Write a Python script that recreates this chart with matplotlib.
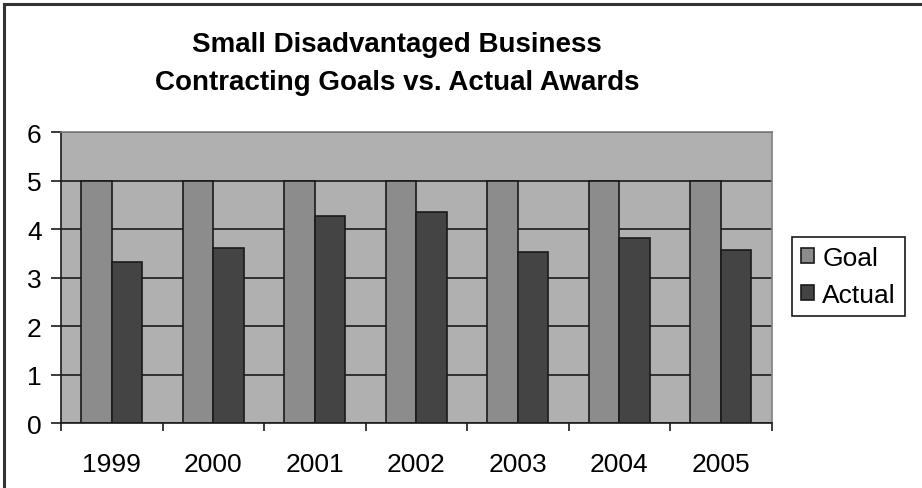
import matplotlib.pyplot as plt
import numpy as np
from matplotlib.lines import Line2D

years = ["1999", "2000", "2001", "2002", "2003", "2004", "2005"]
goal = [5, 5, 5, 5, 5, 5, 5]
actual = [3.33, 3.62, 4.28, 4.35, 3.54, 3.83, 3.58]

plt.rcParams['font.family'] = ['Liberation Sans', 'DejaVu Sans']

fig = plt.figure(figsize=(9.22, 4.89), dpi=100)
ax = fig.add_axes([0.0662, 0.1323, 0.7708, 0.5951])

x = np.arange(len(years))
w = 0.3
ax.bar(x - w / 2, goal, w, color='#8c8c8c', edgecolor='#1a1a1a', linewidth=1.2, label='Goal')
ax.bar(x + w / 2, actual, w, color='#444444', edgecolor='#1a1a1a', linewidth=1.2, label='Actual')

ax.set_facecolor('#b0b0b0')
ax.set_axisbelow(True)
ax.yaxis.grid(True, color='#1a1a1a', linewidth=1.2)

ax.set_xlim(-0.5, len(years) - 0.5)
ax.set_ylim(0, 6)
ax.set_yticks(range(0, 7))
ax.set_xticks(x)
ax.set_xticklabels(years)
ax.set_xticks(np.arange(-0.5, len(years)), minor=True)

ax.tick_params(axis='x', which='major', length=0, pad=21, labelsize=19)
ax.tick_params(axis='x', which='minor', length=6, width=1.2, direction='out', color='#1a1a1a')
ax.tick_params(axis='y', length=7, width=1.2, direction='out', pad=7, labelsize=19, color='#1a1a1a')

for s in ['left', 'bottom']:
    ax.spines[s].set_color('#1a1a1a')
    ax.spines[s].set_linewidth(1.2)
for s in ['top', 'right']:
    ax.spines[s].set_color('#808080')
    ax.spines[s].set_linewidth(1.2)

leg = fig.legend(loc='center', bbox_to_anchor=(848.5 / 922, 1 - 277.5 / 489), fontsize=19,
                 frameon=True, fancybox=False, edgecolor='#1a1a1a', framealpha=1,
                 handlelength=0.5, handleheight=0.5, handletextpad=0.3,
                 borderpad=0.35, labelspacing=0.5, borderaxespad=0)
leg.get_frame().set_linewidth(1.2)

fig.text(397 / 922, 1 - 64 / 489, "Small Disadvantaged Business\nContracting Goals vs. Actual Awards",
         ha='center', va='center', fontsize=20, fontweight='bold', linespacing=1.6)

# frame lines along the top and left edges
fig.add_artist(Line2D([4 / 922, 4 / 922], [0, 1 - 5 / 489], color='#333333', linewidth=2.2))
fig.add_artist(Line2D([4 / 922, 1], [1 - 5 / 489, 1 - 5 / 489], color='#333333', linewidth=2.2))

fig.savefig('out.png', dpi=100)
